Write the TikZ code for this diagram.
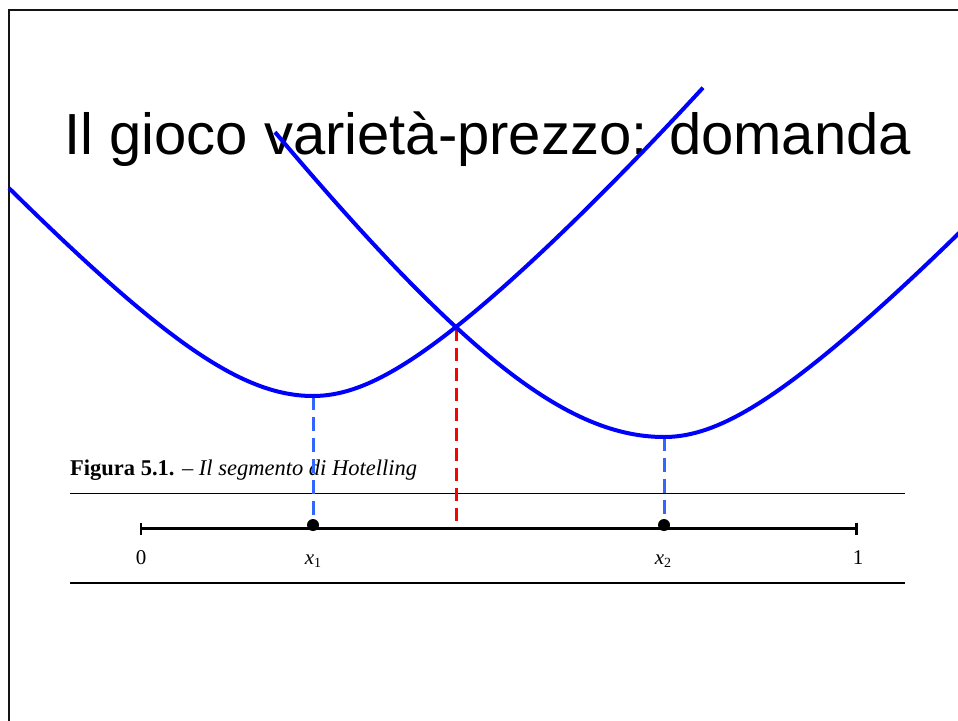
\documentclass[tikz,border=0pt]{standalone}
\usepackage{fontspec}
\setmainfont{Liberation Serif}
\newfontfamily\titlefont{Liberation Sans}
\definecolor{curveblue}{RGB}{0,0,255}
\definecolor{dashblue}{RGB}{51,102,255}
\definecolor{dashred}{RGB}{255,0,0}
\definecolor{framegray}{RGB}{20,20,20}
\begin{document}
\begin{tikzpicture}[x=1pt,y=-1pt,
  curve/.style={draw=curveblue, line width=4pt, line join=round},
  bluedash/.style={draw=dashblue, line width=3pt, dash pattern=on 14pt off 7pt},
  reddash/.style={draw=dashred, line width=3pt, dash pattern=on 13pt off 7pt},
  rulestyle/.style={draw=black, line width=1.6pt},
  axisline/.style={draw=black, line width=2.5pt},
  dot/.style={circle, fill=black, inner sep=0pt, minimum size=12pt},
  lab/.style={inner sep=0pt, anchor=base, font=\fontsize{21}{25}\selectfont},
  frame/.style={draw=framegray, line width=2pt}]
\useasboundingbox (0,0) rectangle (958,720);
% slide frame
\draw[frame] (9,722) -- (9,9.5) -- (960,9.5);
% title
\node[anchor=base west, inner sep=0pt, font=\titlefont\fontsize{58}{70}\selectfont] (title) at (64,154) {Il gioco varietà-prezzo: domanda};
% caption and rules
\node[anchor=base west, inner sep=0pt, font=\fontsize{22.5}{27}\selectfont] (caption) at (70,475) {\textbf{Figura 5.1.} – \textit{Il segmento di Hotelling}};
\coordinate (r1a) at (70,493.5); \coordinate (r1b) at (905,493.5);
\coordinate (r2a) at (70,583); \coordinate (r2b) at (905,583);
\draw[rulestyle] (r1a) -- (r1b);
\draw[rulestyle] (r2a) -- (r2b);
% axis
\coordinate (o) at (141,528.5);
\coordinate (one) at (856.5,528.5);
\draw[axisline] (o) -- (one);
\draw[axisline] ([yshift=6pt]o) -- ([yshift=-6pt]o);
\draw[axisline] ([yshift=6pt]one) -- ([yshift=-6pt]one);
\node[lab] (l0) at (141,564) {0};
\node[lab] (lx1) at (313,564) {\textit{x}\raisebox{-0.35ex}{\fontsize{14}{16}\selectfont 1}};
\node[lab] (lx2) at (663,564) {\textit{x}\raisebox{-0.35ex}{\fontsize{14}{16}\selectfont 2}};
\node[lab] (l1) at (858,564) {1};
% key points
\coordinate (m1) at (313,396);
\coordinate (m2) at (664,437);
\coordinate (cross) at (456,328);
\coordinate (redfoot) at (456,526);
\node[dot] (d1) at (313,525) {};
\node[dot] (d2) at (664,525) {};
% dashed verticals
\draw[bluedash] (m1) -- (d1.north);
\draw[bluedash] (m2) -- (d2.north);
\draw[reddash] (cross) -- (redfoot);
% curves
\draw[curve]
  plot[domain=9:313, samples=80] (\x, {396 - 110*(sqrt(((\x-313)/100)^2 + 2.25) - 1.5)})
  -- plot[domain=313:703, samples=80] (\x, {396 - 90*(sqrt(((\x-313)/100)^2 + 1.21) - 1.1) - 2.8*((\x-313)/100)^2});
\draw[curve]
  plot[domain=275:664, samples=80] (\x, {437 - 138*(sqrt(((\x-664)/100)^2 + 5.3824) - 2.32)})
  -- plot[domain=664:962, samples=80] (\x, {437 - 90*(sqrt(((\x-664)/100)^2 + 1.21) - 1.1) - 2.25*((\x-664)/100)^2});
\end{tikzpicture}
\end{document}
